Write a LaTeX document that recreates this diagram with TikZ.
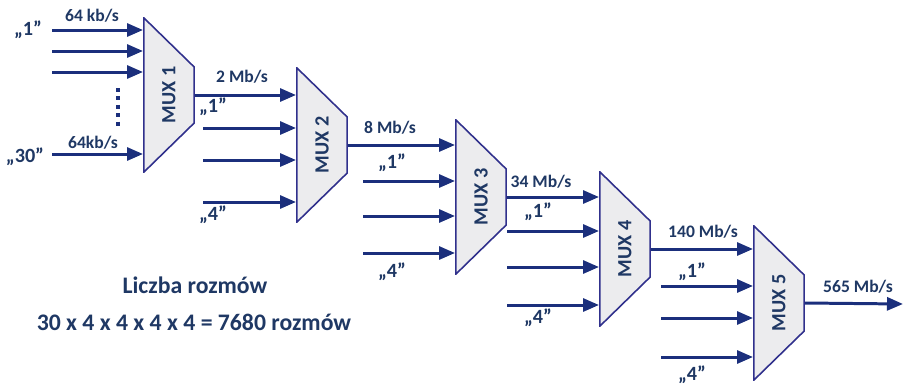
\documentclass[tikz,border=0pt]{standalone}
\usepackage{fontspec}
\setmainfont{Carlito}
\usetikzlibrary{positioning, arrows.meta, calc}
\definecolor{Navy}{HTML}{1B2F7C}
\definecolor{MuxLine}{HTML}{30308C}
\definecolor{MuxFill}{HTML}{ECECEE}
\definecolor{TextBlue}{HTML}{1F3864}

\begin{document}
\begin{tikzpicture}[x=0.02cm, y=-0.02cm,
    mux/.style={minimum width=1.04cm, minimum height=3.12cm, inner sep=0pt, outer sep=0pt,
        font=\fontsize{11.5}{13}\selectfont\bfseries, text=TextBlue,
        path picture={\filldraw[draw=MuxLine, fill=MuxFill, line width=0.9pt]
            ([shift={(0.45pt,-0.45pt)}]path picture bounding box.north west)
            -- ([shift={(-0.45pt,-1.0cm)}]path picture bounding box.north east)
            -- ([shift={(-0.45pt,1.0cm)}]path picture bounding box.south east)
            -- ([shift={(0.45pt,0.45pt)}]path picture bounding box.south west) -- cycle;}},
    arr/.style={-{Triangle[length=3.2mm, width=2.6mm]}, line width=1.7pt, color=Navy},
    rate/.style={font=\fontsize{10}{12}\selectfont\bfseries, text=TextBlue, inner sep=1pt},
    chan/.style={font=\fontsize{11.5}{13}\selectfont\bfseries, text=TextBlue, inner sep=1pt},
    every node/.style={font=\bfseries}
]
\useasboundingbox (0,0) rectangle (904,390);

% Multiplexers
\node[mux] (mux1) at (169,95) {\rotatebox{90}{MUX 1}};
\node[mux] (mux2) at (322,145) {\rotatebox{90}{MUX 2}};
\node[mux] (mux3) at (481,197) {\rotatebox{90}{MUX 3}};
\node[mux] (mux4) at (625,249) {\rotatebox{90}{MUX 4}};
\node[mux] (mux5) at (779,303) {\rotatebox{90}{MUX 5}};

% Input points
\coordinate (in11) at (52,30);
\coordinate (in12) at (52,51);
\coordinate (in13) at (52,72);
\coordinate (in130) at (52,154);
\coordinate (in22) at (203,128);
\coordinate (in23) at (203,160);
\coordinate (in24) at (203,202);
\coordinate (in32) at (363,181);
\coordinate (in33) at (363,216);
\coordinate (in34) at (363,253);
\coordinate (in42) at (507,231);
\coordinate (in43) at (507,267);
\coordinate (in44) at (507,305);
\coordinate (in52) at (661,286);
\coordinate (in53) at (661,318);
\coordinate (in54) at (661,357);
\coordinate (out) at (903,304);
\coordinate (dtop) at (118,88);
\coordinate (dbot) at (118,128);

% MUX 1 inputs
\draw[arr] (in11) -- (in11 -| mux1.west);
\draw[arr] (in12) -- (in12 -| mux1.west);
\draw[arr] (in13) -- (in13 -| mux1.west);
\draw[arr] (in130) -- (in130 -| mux1.west);
\draw[Navy, line width=2.2pt, dash pattern=on 2.2pt off 2.6pt] (dtop) -- (dbot);

% Chain
\draw[arr] (mux1.east) -- (mux1.east -| mux2.west);
\draw[arr] (mux2.east) -- (mux2.east -| mux3.west);
\draw[arr] (mux3.east) -- (mux3.east -| mux4.west);
\draw[arr] (mux4.east) -- (mux4.east -| mux5.west);
\draw[arr] (mux5.east) -- (out);

% Other inputs
\draw[arr] (in22) -- (in22 -| mux2.west);
\draw[arr] (in23) -- (in23 -| mux2.west);
\draw[arr] (in24) -- (in24 -| mux2.west);
\draw[arr] (in32) -- (in32 -| mux3.west);
\draw[arr] (in33) -- (in33 -| mux3.west);
\draw[arr] (in34) -- (in34 -| mux3.west);
\draw[arr] (in42) -- (in42 -| mux4.west);
\draw[arr] (in43) -- (in43 -| mux4.west);
\draw[arr] (in44) -- (in44 -| mux4.west);
\draw[arr] (in52) -- (in52 -| mux5.west);
\draw[arr] (in53) -- (in53 -| mux5.west);
\draw[arr] (in54) -- (in54 -| mux5.west);

% Labels
\node[chan] (c11) at (28,30) {„1”};
\node[chan] (c130) at (25,157) {„30”};
\node[rate] (r1a) at (92,16) {64 kb/s};
\node[rate] (r1b) at (93,143) {64kb/s};
\node[rate] (r2) at (242,77) {2 Mb/s};
\node[rate] (r3) at (390,128) {8 Mb/s};
\node[rate] (r4) at (541,182) {34 Mb/s};
\node[rate] (r5) at (703,232) {140 Mb/s};
\node[rate] (r6) at (858,287) {565 Mb/s};
\node[chan] (c21) at (213,107) {„1”};
\node[chan] (c24) at (213,215) {„4”};
\node[chan] (c31) at (392,163) {„1”};
\node[chan] (c34) at (392,272) {„4”};
\node[chan] (c41) at (538,212) {„1”};
\node[chan] (c44) at (538,318) {„4”};
\node[chan] (c51) at (692,272) {„1”};
\node[chan] (c54) at (692,375) {„4”};

% Count
\node[font=\fontsize{13.5}{16}\selectfont\bfseries, text=TextBlue] (count) at (195,285) {Liczba rozmów};
\node[font=\fontsize{13.5}{16}\selectfont\bfseries, text=TextBlue] (total) at (194,322) {30 x 4 x 4 x 4 x 4 = 7680 rozmów};

\end{tikzpicture}
\end{document}
